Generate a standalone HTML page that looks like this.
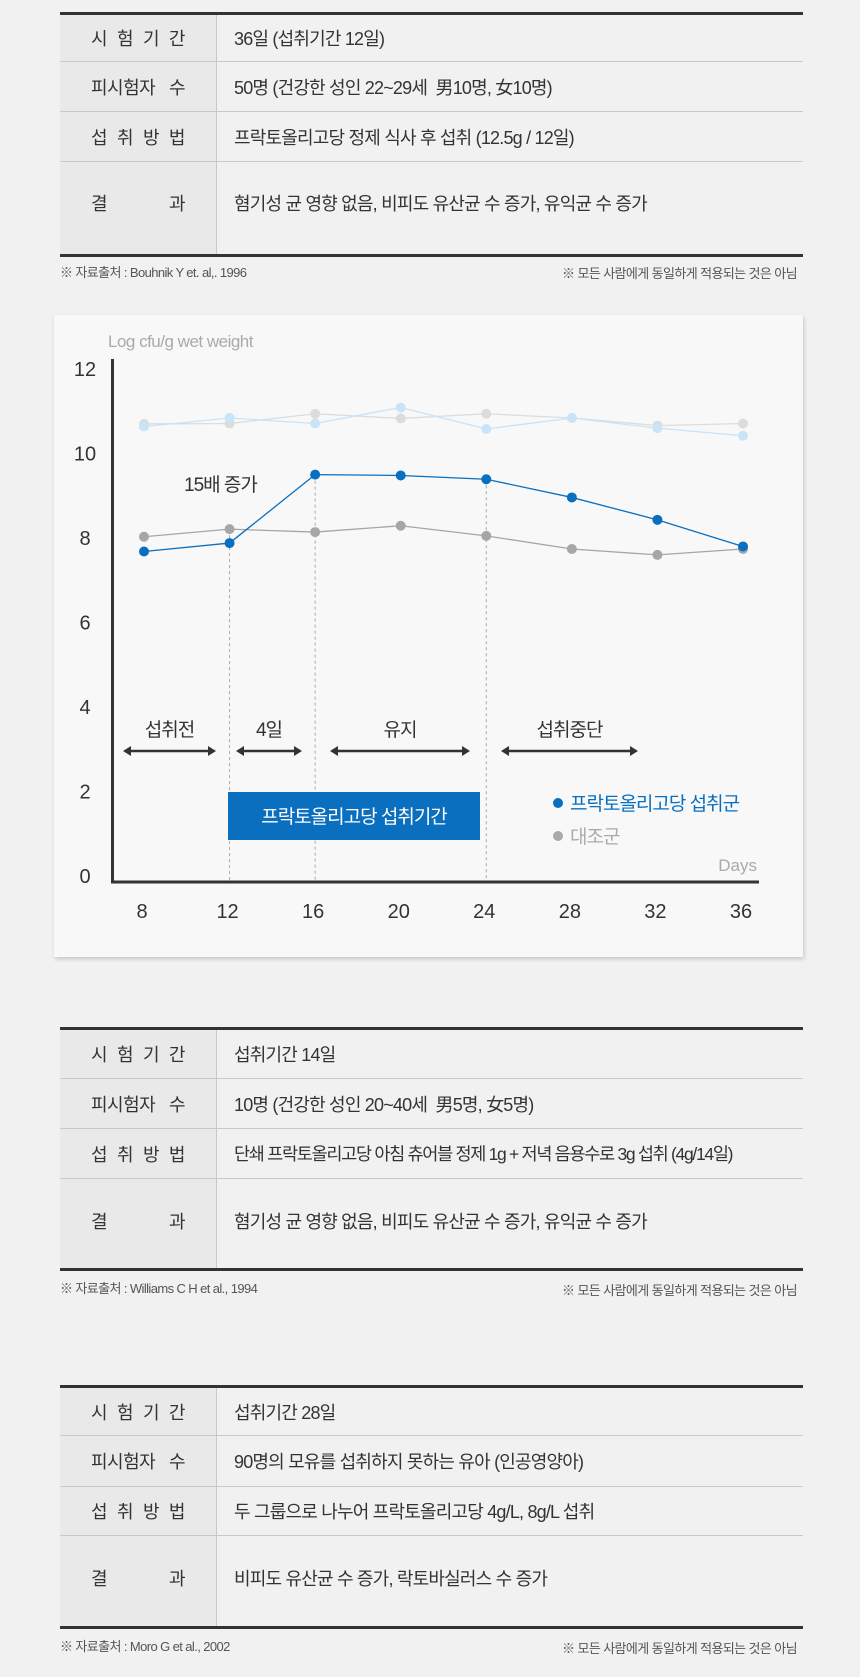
<!DOCTYPE html>
<html><head><meta charset="utf-8">
<style>
body{margin:0;background:#f1f1f1;font-family:"Liberation Sans","Noto Sans CJK KR",sans-serif;color:#333;}
#page{position:relative;width:860px;height:1677px;overflow:hidden;}
.tbl{position:absolute;left:60px;width:743px;border-top:3px solid #333;border-bottom:3px solid #333;}
.row{display:flex;border-bottom:1px solid #c9c9c9;box-sizing:border-box;}
.row:last-child{border-bottom:none;}
.lab{width:157px;background:#e9e9e9;border-right:1px solid #c9c9c9;display:flex;align-items:center;justify-content:center;font-size:18px;letter-spacing:-0.5px;box-sizing:border-box;}
.lab span{display:flex;justify-content:space-between;width:94px;}
.val{flex:1;display:flex;align-items:center;padding-left:17px;font-size:18px;letter-spacing:-0.8px;white-space:nowrap;}
.fn{position:absolute;font-size:13px;color:#555;letter-spacing:-0.6px;}
</style></head><body>
<div id="page">

<div class="tbl" style="top:12px;">
 <div class="row" style="height:47px"><div class="lab"><span><b style="font-weight:normal">시</b><b style="font-weight:normal">험</b><b style="font-weight:normal">기</b><b style="font-weight:normal">간</b></span></div><div class="val">36일 (섭취기간 12일)</div></div>
 <div class="row" style="height:50px"><div class="lab"><span><b style="font-weight:normal">피시험자</b><b style="font-weight:normal">수</b></span></div><div class="val">50명 (건강한 성인 22~29세&nbsp; 男10명, 女10명)</div></div>
 <div class="row" style="height:50px"><div class="lab"><span><b style="font-weight:normal">섭</b><b style="font-weight:normal">취</b><b style="font-weight:normal">방</b><b style="font-weight:normal">법</b></span></div><div class="val">프락토올리고당 정제 식사 후 섭취 (12.5g / 12일)</div></div>
 <div class="row" style="height:92px"><div class="lab" style="align-items:flex-start;padding-top:28px"><span><b style="font-weight:normal">결</b><b style="font-weight:normal">과</b></span></div><div class="val" style="align-items:flex-start;padding-top:28px">혐기성 균 영향 없음, 비피도 유산균 수 증가, 유익균 수 증가</div></div>
</div>
<div class="fn" style="left:60px;top:262px">※ 자료출처 : Bouhnik Y et. al,. 1996</div>
<div class="fn" style="right:63px;top:263px">※ 모든 사람에게 동일하게 적용되는 것은 아님</div>

<div style="position:absolute;left:54px;top:315px;width:749px;height:642px;background:#f8f8f8;box-shadow:1px 2px 4px rgba(0,0,0,0.18);"></div>
<svg id="chart" width="860" height="1677" style="position:absolute;left:0;top:0" font-family="Liberation Sans, Noto Sans CJK KR, sans-serif"></svg>

<div class="tbl" style="top:1027px;">
 <div class="row" style="height:49px"><div class="lab"><span><b style="font-weight:normal">시</b><b style="font-weight:normal">험</b><b style="font-weight:normal">기</b><b style="font-weight:normal">간</b></span></div><div class="val">섭취기간 14일</div></div>
 <div class="row" style="height:50px"><div class="lab"><span><b style="font-weight:normal">피시험자</b><b style="font-weight:normal">수</b></span></div><div class="val">10명 (건강한 성인 20~40세&nbsp; 男5명, 女5명)</div></div>
 <div class="row" style="height:50px"><div class="lab"><span><b style="font-weight:normal">섭</b><b style="font-weight:normal">취</b><b style="font-weight:normal">방</b><b style="font-weight:normal">법</b></span></div><div class="val" style="font-size:17.5px;letter-spacing:-1.3px">단쇄 프락토올리고당 아침 츄어블 정제 1g + 저녁 음용수로 3g 섭취 (4g/14일)</div></div>
 <div class="row" style="height:89px"><div class="lab" style="align-items:flex-start;padding-top:29px"><span><b style="font-weight:normal">결</b><b style="font-weight:normal">과</b></span></div><div class="val" style="align-items:flex-start;padding-top:29px">혐기성 균 영향 없음, 비피도 유산균 수 증가, 유익균 수 증가</div></div>
</div>
<div class="fn" style="left:60px;top:1278px">※ 자료출처 : Williams C H et al., 1994</div>
<div class="fn" style="right:63px;top:1280px">※ 모든 사람에게 동일하게 적용되는 것은 아님</div>

<div class="tbl" style="top:1385px;">
 <div class="row" style="height:48px"><div class="lab"><span><b style="font-weight:normal">시</b><b style="font-weight:normal">험</b><b style="font-weight:normal">기</b><b style="font-weight:normal">간</b></span></div><div class="val">섭취기간 28일</div></div>
 <div class="row" style="height:51px"><div class="lab"><span><b style="font-weight:normal">피시험자</b><b style="font-weight:normal">수</b></span></div><div class="val">90명의 모유를 섭취하지 못하는 유아 (인공영양아)</div></div>
 <div class="row" style="height:49px"><div class="lab"><span><b style="font-weight:normal">섭</b><b style="font-weight:normal">취</b><b style="font-weight:normal">방</b><b style="font-weight:normal">법</b></span></div><div class="val">두 그룹으로 나누어 프락토올리고당 4g/L, 8g/L 섭취</div></div>
 <div class="row" style="height:90px"><div class="lab" style="align-items:flex-start;padding-top:29px"><span><b style="font-weight:normal">결</b><b style="font-weight:normal">과</b></span></div><div class="val" style="align-items:flex-start;padding-top:29px">비피도 유산균 수 증가, 락토바실러스 수 증가</div></div>
</div>
<div class="fn" style="left:60px;top:1636px">※ 자료출처 : Moro G et al., 2002</div>
<div class="fn" style="right:63px;top:1638px">※ 모든 사람에게 동일하게 적용되는 것은 아님</div>
</div>

<script>
const days=[8,12,16,20,24,28,32,36];
const yTicks=[0,2,4,6,8,10,12];
const fosValues=[7.68,7.88,9.5,9.48,9.39,8.96,8.43,7.8];
const controlValues=[8.03,8.21,8.14,8.29,8.05,7.74,7.6,7.74];
const fosOtherValues=[10.64,10.84,10.71,11.09,10.58,10.84,10.6,10.42];
const controlOtherValues=[10.7,10.71,10.94,10.83,10.94,10.84,10.66,10.71];
const dashedDays=[12,16,24];

const NS='http://www.w3.org/2000/svg';
const svg=document.getElementById('chart');
const xS=d=>144+(d-8)*(743-144)/28;
const yS=v=>876-v*(876-369)/12;
function mk(tag,attrs,parent){const e=document.createElementNS(NS,tag);for(const k in attrs)e.setAttribute(k,attrs[k]);(parent||svg).appendChild(e);return e;}
function txt(s,attrs){const t=mk('text',attrs);t.textContent=s;return t;}

dashedDays.forEach(d=>{
  const i=days.indexOf(d);
  const l=mk('line',{x1:xS(d),x2:xS(d),y1:yS(Math.max(fosValues[i],controlValues[i])),y2:882,stroke:'#aaa','stroke-width':1,'stroke-dasharray':'3,3'});
  
  
});
let ax=mk('line',{x1:112.5,x2:112.5,y1:359,y2:883,stroke:'#333','stroke-width':3});


ax=mk('line',{x1:111,x2:759,y1:882,y2:882,stroke:'#333','stroke-width':3});


yTicks.forEach(v=>{
  const t=txt(String(v),{x:85,y:yS(v)+7,'text-anchor':'middle','font-size':20,fill:'#333'});
  
  
});
days.forEach(d=>{
  const t=txt(String(d),{x:xS(d)-2,y:918,'text-anchor':'middle','font-size':20,fill:'#333'});
  
  
});
let t=txt('Log cfu/g wet weight',{x:108,y:347,'font-size':17,fill:'#aaa','letter-spacing':'-0.5'});


t=txt('Days',{x:757,y:871,'text-anchor':'end','font-size':17,fill:'#aaa'});



function series(vals,color,r,name){
  const pts=vals.map((v,i)=>xS(days[i])+','+yS(v)).join(' ');
  const pl=mk('polyline',{points:pts,fill:'none',stroke:color,'stroke-width':1.3});
  
  
  vals.forEach((v,i)=>{
    const c=mk('circle',{cx:xS(days[i]),cy:yS(v),r:r,fill:color});
    
    
  });
}
series(controlOtherValues,'#dcdcdc',5,'control-other');
series(fosOtherValues,'#c9e3f7',5,'fos-other');
series(controlValues,'#a6a6a6',5,'control');
series(fosValues,'#0a6fbf',5,'fos');

t=txt('15배 증가',{x:184,y:491,'font-size':19,fill:'#333','letter-spacing':'-1'});



const phaseLabels=['섭취전','4일','유지','섭취중단'];
const phaseStart=[123,236,330,501];
const phaseEnd=[216,302,470,638];
phaseLabels.forEach((s,i)=>{
  const a=phaseStart[i],b=phaseEnd[i];
  const tt=txt(s,{x:(a+b)/2,y:736,'text-anchor':'middle','font-size':19,fill:'#333','letter-spacing':'-1'});
  
  
  const g=mk('g',{});
  
  
  mk('line',{x1:a+3,x2:b-3,y1:751,y2:751,stroke:'#333','stroke-width':2.5},g);
  mk('polygon',{points:`${a},751 ${a+8},746 ${a+8},756`,fill:'#333'},g);
  mk('polygon',{points:`${b},751 ${b-8},746 ${b-8},756`,fill:'#333'},g);
});
const box=mk('rect',{x:228,y:792,width:252,height:48,fill:'#0a6fbf'});


t=txt('프락토올리고당 섭취기간',{x:354,y:823,'text-anchor':'middle','font-size':19,fill:'#fff','letter-spacing':'-1'});



let c=mk('circle',{cx:558,cy:803,r:5,fill:'#0a6fbf'});


t=txt('프락토올리고당 섭취군',{x:570,y:810,'font-size':19,fill:'#0a6fbf','letter-spacing':'-1'});


c=mk('circle',{cx:558,cy:836,r:5,fill:'#aaa'});


t=txt('대조군',{x:570,y:843,'font-size':19,fill:'#aaa','letter-spacing':'-1'});


</script>
</body></html>
